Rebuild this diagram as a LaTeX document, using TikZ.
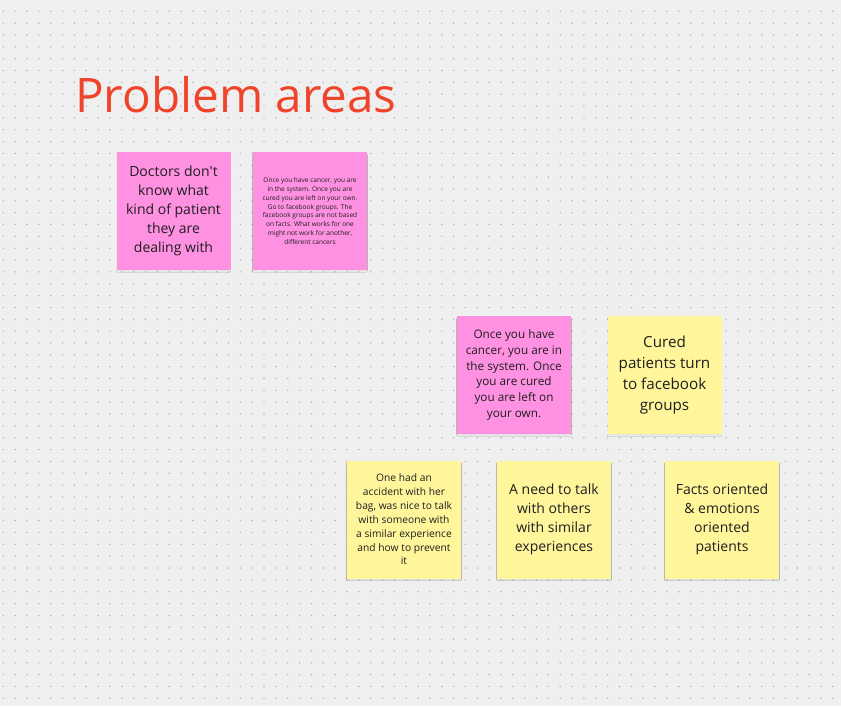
\documentclass[tikz,border=0pt]{standalone}
\usepackage{fontspec}
\setmainfont{Open Sans}
\usepackage{tikz}
\usetikzlibrary{positioning,shadows.blur}

\definecolor{boardgrey}{RGB}{239,239,239}
\definecolor{dotgrey}{RGB}{178,178,178}
\definecolor{titlered}{RGB}{240,68,42}
\definecolor{stickypink}{RGB}{255,145,226}
\definecolor{stickyyellow}{RGB}{255,246,156}
\definecolor{inkdark}{RGB}{30,30,30}

\tikzset{
  sticky/.style={minimum width=85.5pt, minimum height=88.5pt, inner sep=0pt,
    align=center, text=inkdark,
    blur shadow={shadow xshift=0pt, shadow yshift=-1.4pt, shadow blur radius=0.9pt,
      shadow scale=0.985, shadow blur steps=5, shadow opacity=8}},
  pinknote/.style={sticky, fill=stickypink},
  yellownote/.style={sticky, fill=stickyyellow},
}

\begin{document}
\begin{tikzpicture}[x=0.75pt, y=-0.75pt]
  % board
  \fill[boardgrey] (0,0) rectangle (841,706);
  \useasboundingbox (0,0) rectangle (841,706);
  \foreach \i in {0,...,70}
    \foreach \j in {0,...,58}
      \fill[dotgrey] ({3.3+11.85*\i},{11.3+11.845*\j}) circle (0.6pt);

  % heading
  \node[anchor=base west, inner sep=0pt, text=titlered, font=\fontsize{35.7}{43}\selectfont] (title) at (75,113) {Problem areas};

  % upper row
  \node[pinknote, font=\fontsize{10.5}{14.25}\selectfont] (doctors) at (173.5,211)
    {Doctors don\textquotesingle t\\know what\\kind of patient\\they are\\dealing with};
  \node[pinknote, font=\fontsize{4.9}{6.6}\selectfont] (cancerlong) at (310,211)
    {Once you have cancer, you are\\in the system. Once you are\\cured you are left on your own.\\Go to facebook groups. The\\facebook groups are not based\\on facts. What works for one\\might not work for another,\\different cancers};

  % middle row
  \node[pinknote, font=\fontsize{8.8}{11.85}\selectfont] (cancersystem) at (514,375)
    {Once you have\\cancer, you are in\\the system. Once\\you are cured\\you are left on\\your own.};
  \node[yellownote, font=\fontsize{11.4}{15.75}\selectfont] (cured) at (664.5,375)
    {Cured\\patients turn\\to facebook\\groups};

  % lower row
  \node[yellownote, font=\fontsize{7.7}{10.4}\selectfont] (accident) at (404,519.5)
    {One had an\\accident with her\\bag, was nice to talk\\with someone with\\a similar experience\\and how to prevent\\it};
  \node[yellownote, font=\fontsize{10.5}{14.25}\selectfont] (needtalk) at (554,519.5)
    {A need to talk\\with others\\with similar\\experiences};
  \node[yellownote, font=\fontsize{10.5}{14.25}\selectfont] (facts) at (722,519.5)
    {Facts oriented\\\& emotions\\oriented\\patients};
\end{tikzpicture}
\end{document}
